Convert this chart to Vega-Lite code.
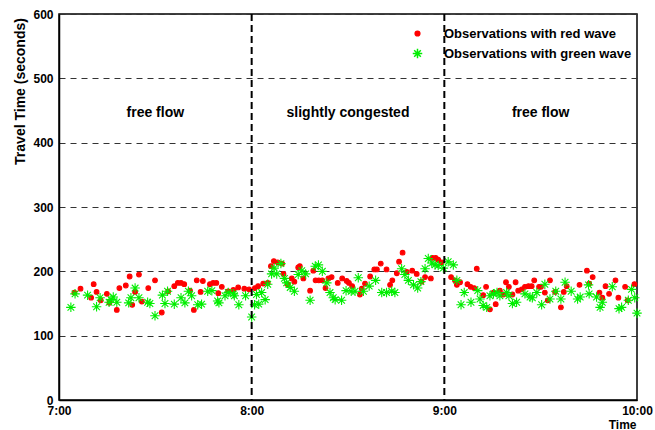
{
  "$schema": "https://vega.github.io/schema/vega-lite/v6.json",
  "width": 578,
  "height": 386,
  "autosize": {"type": "none"},
  "padding": {"left": 59, "top": 14, "right": 18, "bottom": 30},
  "background": "white",
  "config": {
    "font": "Liberation Sans",
    "view": {"stroke": "black", "strokeWidth": 1.5},
    "axis": {
      "labelFont": "Liberation Sans", "labelFontWeight": "bold", "labelFontSize": 12, "labelColor": "black",
      "titleFont": "Liberation Sans", "titleFontWeight": "bold", "titleFontSize": 13, "titleColor": "black",
      "domainColor": "black", "domainWidth": 1.5, "ticks": false
    },
    "legend": {
      "labelFont": "Liberation Sans", "labelFontWeight": "bold", "labelFontSize": 13, "labelColor": "black",
      "labelLimit": 0, "padding": 0, "rowPadding": 4, "labelOffset": 20
    }
  },
  "datasets": {
    "pts": [
      {"t":4.8,"v":167,"s":"red"},{"t":6.7,"v":173,"s":"red"},{"t":10,"v":159,"s":"red"},{"t":10.8,"v":180,"s":"red"},{"t":11.7,"v":168,"s":"red"},{"t":13,"v":155,"s":"red"},{"t":14.9,"v":165,"s":"red"},{"t":15.7,"v":151,"s":"red"},{"t":18,"v":140,"s":"red"},{"t":18.8,"v":174,"s":"red"},{"t":20.8,"v":178,"s":"red"},{"t":22,"v":192,"s":"red"},{"t":22.8,"v":148,"s":"red"},{"t":23.7,"v":168,"s":"red"},{"t":24.9,"v":195,"s":"red"},{"t":25.8,"v":153,"s":"red"},{"t":27.8,"v":174,"s":"red"},{"t":29.9,"v":186,"s":"red"},{"t":32,"v":136,"s":"red"},{"t":34,"v":169,"s":"red"},{"t":35.9,"v":177,"s":"red"},{"t":37,"v":182,"s":"red"},{"t":38,"v":182,"s":"red"},{"t":39,"v":180,"s":"red"},{"t":40.8,"v":170,"s":"red"},{"t":42,"v":140,"s":"red"},{"t":42.9,"v":186,"s":"red"},{"t":44.1,"v":168,"s":"red"},{"t":44.8,"v":185,"s":"red"},{"t":47,"v":180,"s":"red"},{"t":48,"v":182,"s":"red"},{"t":49,"v":182,"s":"red"},{"t":49.6,"v":166,"s":"red"},{"t":50.7,"v":176,"s":"red"},{"t":52.7,"v":169,"s":"red"},{"t":54.3,"v":171,"s":"red"},{"t":55.8,"v":175,"s":"red"},{"t":57.7,"v":173,"s":"red"},{"t":59.2,"v":172,"s":"red"},{"t":61,"v":174,"s":"red"},{"t":62,"v":177,"s":"red"},{"t":63.6,"v":181,"s":"red"},{"t":65,"v":182,"s":"red"},{"t":66,"v":208,"s":"red"},{"t":66.9,"v":216,"s":"red"},{"t":68.1,"v":214,"s":"red"},{"t":69.5,"v":212,"s":"red"},{"t":69.9,"v":196,"s":"red"},{"t":71.2,"v":180,"s":"red"},{"t":72.5,"v":189,"s":"red"},{"t":73.3,"v":184,"s":"red"},{"t":74.5,"v":206,"s":"red"},{"t":75,"v":208,"s":"red"},{"t":76.1,"v":189,"s":"red"},{"t":78.2,"v":170,"s":"red"},{"t":79.2,"v":201,"s":"red"},{"t":79.9,"v":186,"s":"red"},{"t":80.9,"v":186,"s":"red"},{"t":82,"v":186,"s":"red"},{"t":83,"v":174,"s":"red"},{"t":83.9,"v":189,"s":"red"},{"t":84.9,"v":191,"s":"red"},{"t":86.8,"v":182,"s":"red"},{"t":88.2,"v":189,"s":"red"},{"t":89.6,"v":185,"s":"red"},{"t":90.3,"v":182,"s":"red"},{"t":91.3,"v":177,"s":"red"},{"t":93.7,"v":164,"s":"red"},{"t":94.3,"v":173,"s":"red"},{"t":95.3,"v":181,"s":"red"},{"t":96.9,"v":192,"s":"red"},{"t":98.2,"v":203,"s":"red"},{"t":99,"v":203,"s":"red"},{"t":100.2,"v":212,"s":"red"},{"t":102,"v":203,"s":"red"},{"t":103.1,"v":179,"s":"red"},{"t":103.8,"v":186,"s":"red"},{"t":105.2,"v":197,"s":"red"},{"t":105.9,"v":215,"s":"red"},{"t":107,"v":229,"s":"red"},{"t":108.3,"v":199,"s":"red"},{"t":110,"v":201,"s":"red"},{"t":111.4,"v":196,"s":"red"},{"t":112.9,"v":184,"s":"red"},{"t":114,"v":191,"s":"red"},{"t":115.8,"v":189,"s":"red"},{"t":116.3,"v":221,"s":"red"},{"t":117.3,"v":221,"s":"red"},{"t":118.1,"v":218,"s":"red"},{"t":119.2,"v":214,"s":"red"},{"t":122.1,"v":191,"s":"red"},{"t":123.3,"v":186,"s":"red"},{"t":123.9,"v":179,"s":"red"},{"t":124.9,"v":183,"s":"red"},{"t":127.2,"v":180,"s":"red"},{"t":128.2,"v":176,"s":"red"},{"t":129.3,"v":174,"s":"red"},{"t":130.1,"v":204,"s":"red"},{"t":132.1,"v":163,"s":"red"},{"t":133,"v":176,"s":"red"},{"t":134.2,"v":141,"s":"red"},{"t":135.3,"v":167,"s":"red"},{"t":136,"v":149,"s":"red"},{"t":137.3,"v":170,"s":"red"},{"t":138.4,"v":164,"s":"red"},{"t":139.2,"v":183,"s":"red"},{"t":140.1,"v":176,"s":"red"},{"t":141.2,"v":164,"s":"red"},{"t":142.2,"v":183,"s":"red"},{"t":143,"v":170,"s":"red"},{"t":144.1,"v":172,"s":"red"},{"t":145.1,"v":176,"s":"red"},{"t":146.2,"v":177,"s":"red"},{"t":147.2,"v":177,"s":"red"},{"t":148,"v":186,"s":"red"},{"t":149.5,"v":176,"s":"red"},{"t":150.1,"v":176,"s":"red"},{"t":151.3,"v":167,"s":"red"},{"t":152.2,"v":155,"s":"red"},{"t":152.9,"v":186,"s":"red"},{"t":154.5,"v":168,"s":"red"},{"t":156.3,"v":144,"s":"red"},{"t":157.2,"v":168,"s":"red"},{"t":158.1,"v":177,"s":"red"},{"t":162.1,"v":179,"s":"red"},{"t":164.4,"v":201,"s":"red"},{"t":165.1,"v":181,"s":"red"},{"t":166.2,"v":191,"s":"red"},{"t":168.3,"v":167,"s":"red"},{"t":169.2,"v":159,"s":"red"},{"t":170.2,"v":177,"s":"red"},{"t":171.3,"v":165,"s":"red"},{"t":173.3,"v":186,"s":"red"},{"t":174.2,"v":159,"s":"red"},{"t":176.3,"v":176,"s":"red"},{"t":177.1,"v":155,"s":"red"},{"t":179.2,"v":180,"s":"red"},
      {"t":3.7,"v":144,"s":"green"},{"t":5,"v":165,"s":"green"},{"t":8.9,"v":163,"s":"green"},{"t":11.7,"v":145,"s":"green"},{"t":12.8,"v":159,"s":"green"},{"t":15.6,"v":152,"s":"green"},{"t":16.2,"v":156,"s":"green"},{"t":16.9,"v":160,"s":"green"},{"t":18,"v":152,"s":"green"},{"t":21.7,"v":151,"s":"green"},{"t":22.4,"v":159,"s":"green"},{"t":23.7,"v":174,"s":"green"},{"t":24.9,"v":159,"s":"green"},{"t":27.6,"v":152,"s":"green"},{"t":28.3,"v":150,"s":"green"},{"t":29.9,"v":131,"s":"green"},{"t":32.2,"v":163,"s":"green"},{"t":33,"v":150,"s":"green"},{"t":33.8,"v":169,"s":"green"},{"t":35.9,"v":149,"s":"green"},{"t":38,"v":159,"s":"green"},{"t":39.2,"v":151,"s":"green"},{"t":40.3,"v":169,"s":"green"},{"t":41.3,"v":162,"s":"green"},{"t":43.2,"v":148,"s":"green"},{"t":44.4,"v":149,"s":"green"},{"t":46.3,"v":169,"s":"green"},{"t":47.6,"v":170,"s":"green"},{"t":49.4,"v":154,"s":"green"},{"t":49.8,"v":151,"s":"green"},{"t":51.7,"v":162,"s":"green"},{"t":52.7,"v":167,"s":"green"},{"t":54.3,"v":165,"s":"green"},{"t":54.6,"v":162,"s":"green"},{"t":56,"v":148,"s":"green"},{"t":58.1,"v":162,"s":"green"},{"t":60,"v":129,"s":"green"},{"t":60.9,"v":148,"s":"green"},{"t":61.5,"v":164,"s":"green"},{"t":62.2,"v":149,"s":"green"},{"t":63.1,"v":167,"s":"green"},{"t":64.2,"v":156,"s":"green"},{"t":65,"v":180,"s":"green"},{"t":66.2,"v":196,"s":"green"},{"t":67,"v":205,"s":"green"},{"t":67.8,"v":196,"s":"green"},{"t":69.1,"v":212,"s":"green"},{"t":70.2,"v":189,"s":"green"},{"t":70.9,"v":182,"s":"green"},{"t":72,"v":175,"s":"green"},{"t":73.3,"v":169,"s":"green"},{"t":74.5,"v":195,"s":"green"},{"t":75.6,"v":201,"s":"green"},{"t":76.8,"v":196,"s":"green"},{"t":78.2,"v":155,"s":"green"},{"t":79.8,"v":208,"s":"green"},{"t":80.8,"v":210,"s":"green"},{"t":82,"v":200,"s":"green"},{"t":83.4,"v":182,"s":"green"},{"t":84.4,"v":167,"s":"green"},{"t":85.4,"v":159,"s":"green"},{"t":86,"v":156,"s":"green"},{"t":88,"v":155,"s":"green"},{"t":89.4,"v":170,"s":"green"},{"t":91,"v":169,"s":"green"},{"t":92.2,"v":169,"s":"green"},{"t":93.2,"v":190,"s":"green"},{"t":94.8,"v":169,"s":"green"},{"t":96.6,"v":177,"s":"green"},{"t":98.6,"v":186,"s":"green"},{"t":100.5,"v":167,"s":"green"},{"t":102,"v":167,"s":"green"},{"t":103.6,"v":169,"s":"green"},{"t":104.6,"v":167,"s":"green"},{"t":106.7,"v":204,"s":"green"},{"t":107.7,"v":195,"s":"green"},{"t":108.8,"v":186,"s":"green"},{"t":110.4,"v":179,"s":"green"},{"t":111.7,"v":174,"s":"green"},{"t":112.7,"v":184,"s":"green"},{"t":114,"v":204,"s":"green"},{"t":115,"v":220,"s":"green"},{"t":116.1,"v":213,"s":"green"},{"t":117.1,"v":210,"s":"green"},{"t":118.1,"v":209,"s":"green"},{"t":119.7,"v":205,"s":"green"},{"t":121.2,"v":215,"s":"green"},{"t":122.8,"v":210,"s":"green"},{"t":123.9,"v":186,"s":"green"},{"t":125.2,"v":148,"s":"green"},{"t":126.2,"v":167,"s":"green"},{"t":128.3,"v":152,"s":"green"},{"t":130.4,"v":170,"s":"green"},{"t":131.1,"v":157,"s":"green"},{"t":132.1,"v":147,"s":"green"},{"t":133.2,"v":144,"s":"green"},{"t":134.2,"v":162,"s":"green"},{"t":135.3,"v":165,"s":"green"},{"t":136.4,"v":167,"s":"green"},{"t":137.3,"v":162,"s":"green"},{"t":139.4,"v":167,"s":"green"},{"t":140.1,"v":162,"s":"green"},{"t":141.2,"v":150,"s":"green"},{"t":142.5,"v":152,"s":"green"},{"t":145.1,"v":165,"s":"green"},{"t":146.7,"v":160,"s":"green"},{"t":147.4,"v":159,"s":"green"},{"t":148.8,"v":167,"s":"green"},{"t":150.3,"v":148,"s":"green"},{"t":151.3,"v":180,"s":"green"},{"t":152.9,"v":157,"s":"green"},{"t":154.7,"v":169,"s":"green"},{"t":156.3,"v":157,"s":"green"},{"t":157.6,"v":183,"s":"green"},{"t":159.5,"v":169,"s":"green"},{"t":161.5,"v":157,"s":"green"},{"t":162.3,"v":160,"s":"green"},{"t":164.9,"v":179,"s":"green"},{"t":165.1,"v":165,"s":"green"},{"t":167.4,"v":160,"s":"green"},{"t":168.5,"v":144,"s":"green"},{"t":169.2,"v":152,"s":"green"},{"t":172.3,"v":176,"s":"green"},{"t":174.4,"v":142,"s":"green"},{"t":175.2,"v":144,"s":"green"},{"t":177.3,"v":155,"s":"green"},{"t":178.3,"v":172,"s":"green"},{"t":179.3,"v":159,"s":"green"},{"t":180,"v":135,"s":"green"}
    ]
  },
  "layer": [
    {
      "data": {"name": "pts"},
      "mark": {"type": "point", "filled": true, "strokeWidth": 1.1, "opacity": 1, "clip": false},
      "encoding": {
        "x": {
          "field": "t", "type": "quantitative",
          "scale": {"domain": [0, 180], "nice": false, "zero": false},
          "axis": {
            "values": [0, 60, 120, 180], "grid": false,
            "labelExpr": "floor(datum.value / 60) + 7 + ':00'",
            "labelPadding": 5, "labelFlush": false,
            "title": "Time", "titleFontSize": 12, "titleAnchor": "end", "titleAlign": "right", "titleX": 577, "titleY": 19, "titlePadding": 0
          }
        },
        "y": {
          "field": "v", "type": "quantitative",
          "scale": {"domain": [0, 600], "nice": false},
          "axis": {
            "values": [0, 100, 200, 300, 400, 500, 600],
            "grid": true, "gridDash": [6, 5], "gridColor": "#333333", "gridWidth": 1, "gridOpacity": 1,
            "labelPadding": 6, "labelFlush": false,
            "title": "Travel Time (seconds)", "titleFontSize": 14, "titleX": -39, "titleY": 77, "titleAlign": "center", "titleBaseline": "middle", "titleAngle": -90
          }
        },
        "fill": {
          "field": "s", "type": "nominal",
          "scale": {"domain": ["red", "green"], "range": ["#ff0000", "#00ff00"]},
          "legend": {
            "orient": "none", "legendX": 352, "legendY": 13, "title": null,
            "labelExpr": "datum.value == 'red' ? 'Observations with red wave' : 'Observations with green wave'"
          }
        },
        "stroke": {
          "field": "s", "type": "nominal",
          "scale": {"domain": ["red", "green"], "range": ["#ff0000", "#00ee00"]},
          "legend": {
            "orient": "none", "legendX": 352, "legendY": 13, "title": null,
            "labelExpr": "datum.value == 'red' ? 'Observations with red wave' : 'Observations with green wave'"
          }
        },
        "shape": {
          "field": "s", "type": "nominal",
          "scale": {"domain": ["red", "green"], "range": ["circle", "M-1,0L1,0M0,-1L0,1M-0.7,-0.7L0.7,0.7M-0.7,0.7L0.7,-0.7"]},
          "legend": {
            "orient": "none", "legendX": 352, "legendY": 13, "title": null,
            "labelExpr": "datum.value == 'red' ? 'Observations with red wave' : 'Observations with green wave'"
          }
        },
        "size": {
          "field": "s", "type": "nominal",
          "scale": {"domain": ["red", "green"], "range": [22, 90]},
          "legend": {
            "orient": "none", "legendX": 352, "legendY": 13, "title": null,
            "labelExpr": "datum.value == 'red' ? 'Observations with red wave' : 'Observations with green wave'"
          }
        }
      }
    },
    {
      "data": {"values": [{"t": 60}, {"t": 120}]},
      "mark": {"type": "rule", "color": "black", "strokeWidth": 2, "strokeDash": [7, 4]},
      "encoding": {"x": {"field": "t", "type": "quantitative"}}
    },
    {
      "data": {"values": [
        {"t": 30, "v": 446, "label": "free flow"},
        {"t": 90, "v": 446, "label": "slightly congested"},
        {"t": 150, "v": 446, "label": "free flow"}
      ]},
      "mark": {"type": "text", "font": "Liberation Sans", "fontWeight": "bold", "fontSize": 14, "color": "black", "align": "center", "baseline": "middle"},
      "encoding": {
        "x": {"field": "t", "type": "quantitative"},
        "y": {"field": "v", "type": "quantitative"},
        "text": {"field": "label"}
      }
    }
  ]
}
